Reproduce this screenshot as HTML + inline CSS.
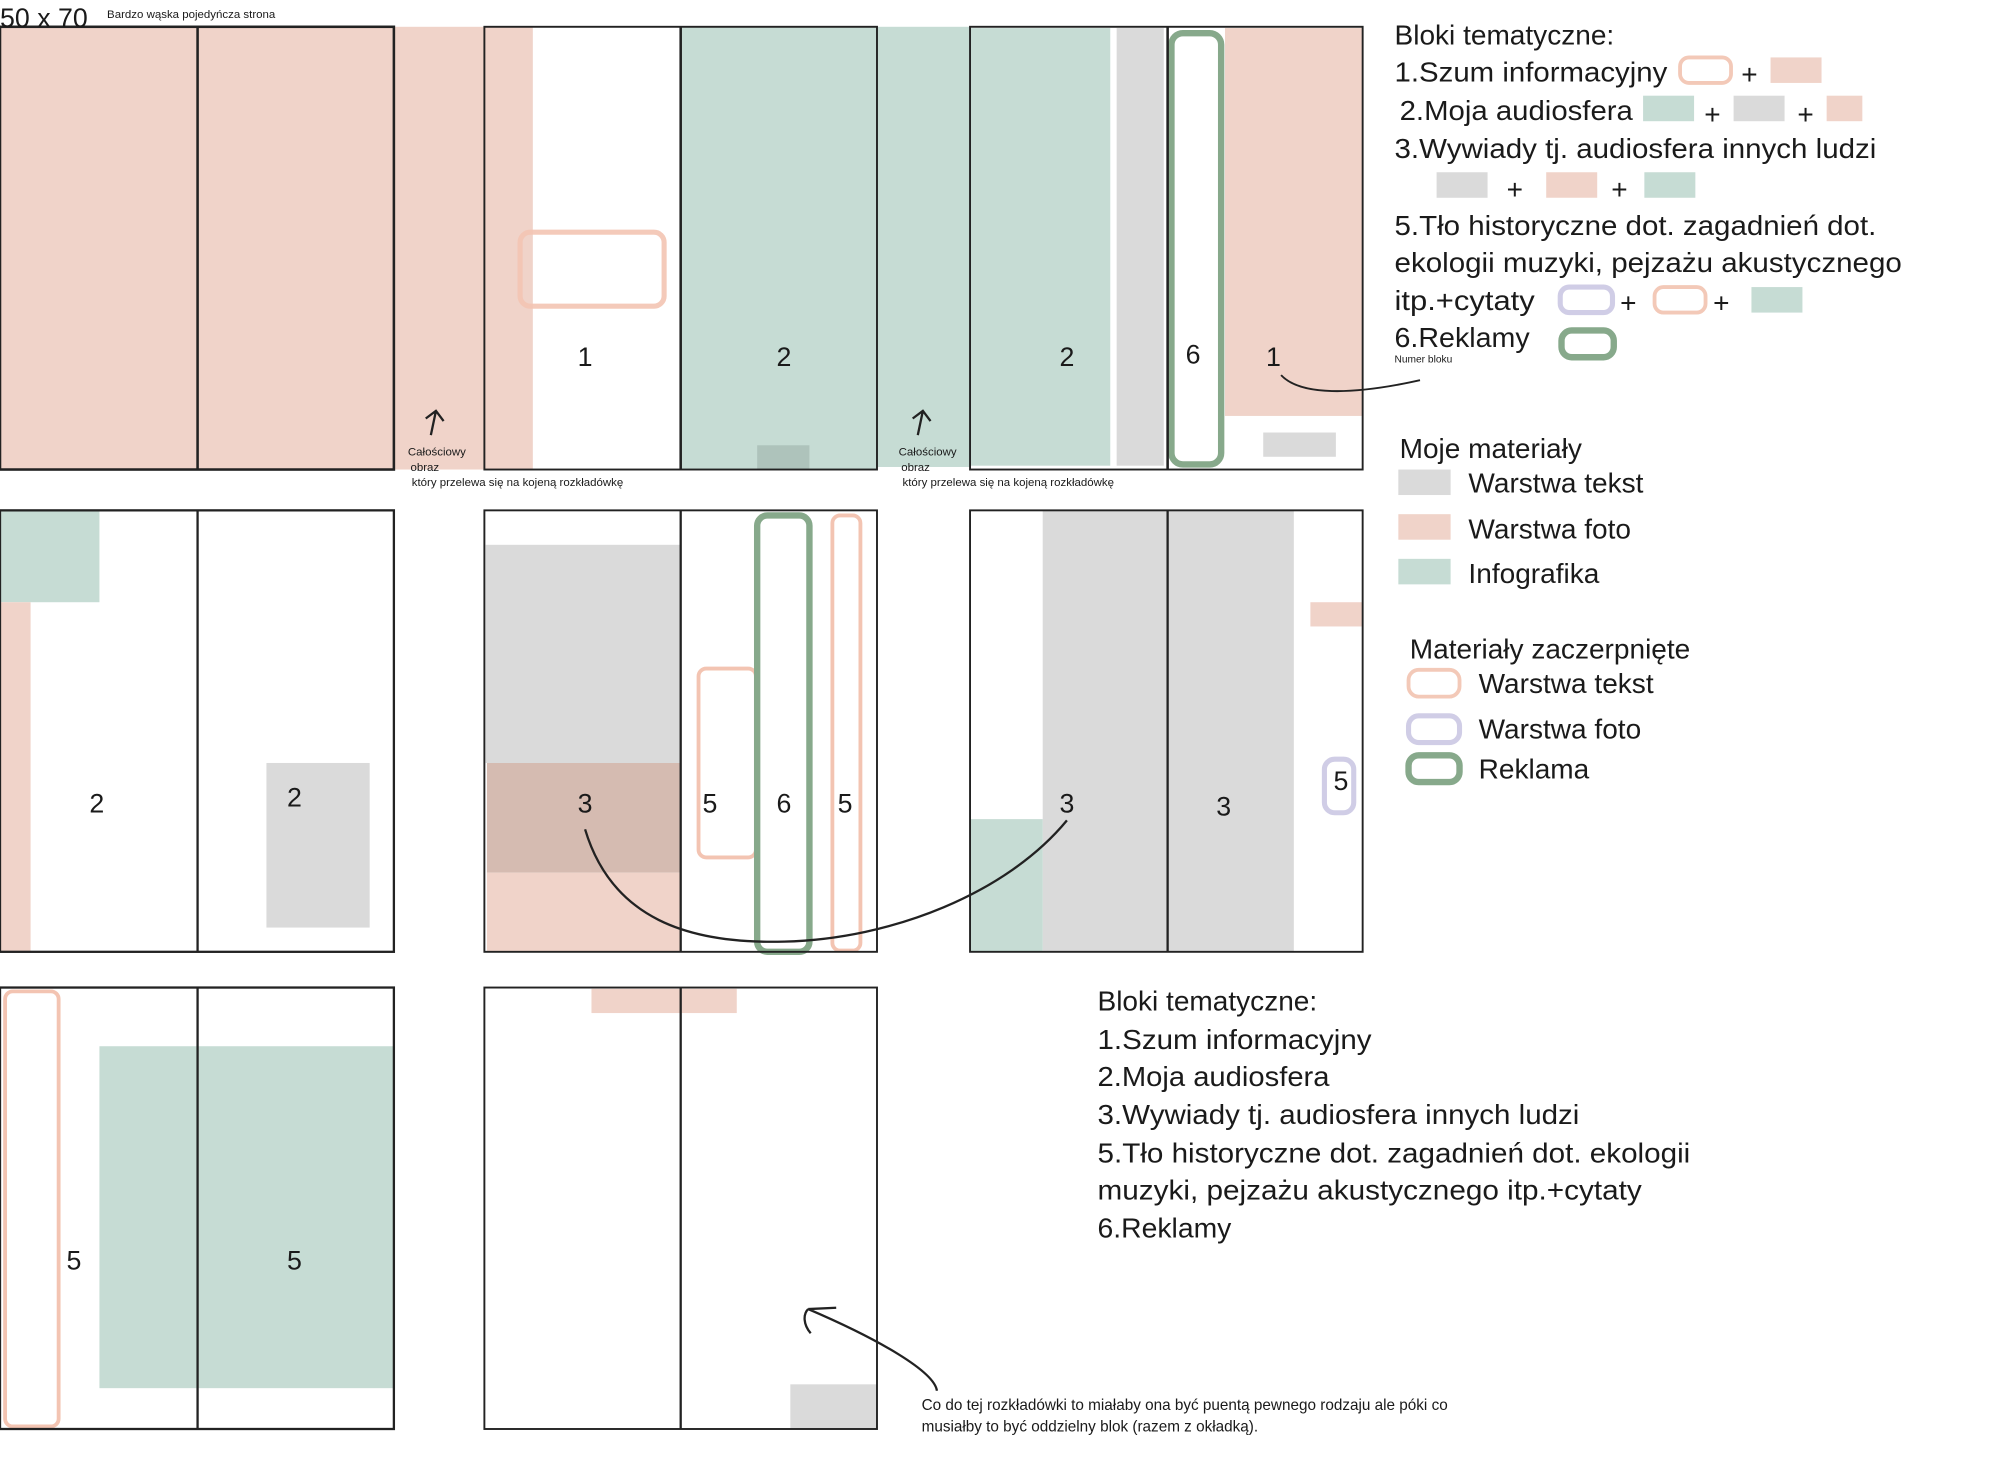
<!DOCTYPE html>
<html><head><meta charset="utf-8"><style>
html,body{margin:0;padding:0;background:#fff;}
svg{display:block;}
text{font-family:"Liberation Sans Narrow","Liberation Sans",sans-serif;fill:#1a1a1a;}
.n{font-size:21px;text-anchor:middle;}
.L{font-size:22px;}
.s{font-size:9px;}
</style></head><body>
<svg width="2000" height="1466" viewBox="0 0 1569 1149" preserveAspectRatio="none" xmlns="http://www.w3.org/2000/svg">
<rect width="1569" height="1149" fill="#fff"/>
<!-- Row 1 -->
<rect x="0" y="21" width="418" height="347" fill="#f0d3c9"/>
<rect x="534" y="21" width="227" height="347" fill="#c6dcd4"/>
<rect x="688" y="366" width="73" height="4" fill="#fff"/>
<rect x="594" y="349" width="41" height="19" fill="#aec3bb"/>
<rect x="761" y="22" width="110" height="343" fill="#c6dcd4"/>
<rect x="876" y="22" width="37" height="343" fill="#dadada"/>
<rect x="961" y="22" width="108" height="304" fill="#f0d3c9"/>
<rect x="991" y="339" width="57" height="19" fill="#dadada"/>
<rect x="408" y="182" width="113" height="58" rx="8" fill="none" stroke="#f3c4b2" stroke-width="4" opacity="0.9"/>
<rect x="919" y="26" width="39" height="338" rx="9" fill="#fff" stroke="#87a98b" stroke-width="5"/>
<g fill="none" stroke="#222" stroke-width="2">
<rect x="0" y="21" width="309" height="347"/><line x1="155" y1="21" x2="155" y2="368"/>
<rect x="380" y="21" width="308" height="347" stroke-width="1.5"/><line x1="534" y1="21" x2="534" y2="368"/>
<rect x="761" y="21" width="308" height="347" stroke-width="1.5"/><line x1="916" y1="21" x2="916" y2="368"/>
</g>
<text x="0" y="21" style="font-size:21px">50 x 70</text>
<text x="84" y="14" class="s">Bardzo wąska pojedyńcza strona</text>
<text x="459" y="287" class="n">1</text><text x="615" y="287" class="n">2</text>
<text x="837" y="287" class="n">2</text><text x="936" y="285" class="n">6</text><text x="999" y="287" class="n">1</text>
<path d="M1005 294 C1020 310 1060 310 1114 298" fill="none" stroke="#222" stroke-width="1.5"/>
<g fill="none" stroke="#222" stroke-width="1.8">
<path d="M338 341 L342 322 M334 328 L342 322 L348 330"/>
<path d="M720 341 L724 322 M716 328 L724 322 L730 330"/>
</g>
<text x="320" y="357" class="s">Całościowy</text><text x="322" y="369" class="s">obraz</text><text x="323" y="381" class="s">który przelewa się na kojeną rozkładówkę</text>
<text x="705" y="357" class="s">Całościowy</text><text x="707" y="369" class="s">obraz</text><text x="708" y="381" class="s">który przelewa się na kojeną rozkładówkę</text>
<!-- Legend 1 -->
<text x="1094" y="35" class="L">Bloki tematyczne:</text>
<text x="1094" y="64" class="L" textLength="214" lengthAdjust="spacingAndGlyphs">1.Szum informacyjny</text>
<rect x="1318" y="45" width="40" height="20" rx="7" fill="none" stroke="#f3c9b8" stroke-width="3"/>
<text x="1366" y="66" class="L">+</text><rect x="1389" y="45" width="40" height="20" fill="#f0d3c9"/>
<text x="1098" y="94" class="L" textLength="183" lengthAdjust="spacingAndGlyphs">2.Moja audiosfera</text>
<rect x="1289" y="75" width="40" height="20" fill="#c6dcd4"/><text x="1337" y="97" class="L">+</text>
<rect x="1360" y="75" width="40" height="20" fill="#dadada"/><text x="1410" y="97" class="L">+</text>
<rect x="1433" y="75" width="28" height="20" fill="#f0d3c9"/>
<text x="1094" y="124" class="L" textLength="378" lengthAdjust="spacingAndGlyphs">3.Wywiady tj. audiosfera innych ludzi</text>
<rect x="1127" y="135" width="40" height="20" fill="#dadada"/><text x="1182" y="156" class="L">+</text>
<rect x="1213" y="135" width="40" height="20" fill="#f0d3c9"/><text x="1264" y="156" class="L">+</text>
<rect x="1290" y="135" width="40" height="20" fill="#c6dcd4"/>
<text x="1094" y="184" class="L" textLength="378" lengthAdjust="spacingAndGlyphs">5.Tło historyczne dot. zagadnień dot.</text>
<text x="1094" y="213" class="L" textLength="398" lengthAdjust="spacingAndGlyphs">ekologii muzyki, pejzażu akustycznego</text>
<text x="1094" y="243" class="L" textLength="110" lengthAdjust="spacingAndGlyphs">itp.+cytaty</text>
<rect x="1224" y="225" width="41" height="20" rx="7" fill="none" stroke="#d0cde6" stroke-width="4"/>
<text x="1271" y="245" class="L">+</text>
<rect x="1298" y="225" width="40" height="20" rx="7" fill="none" stroke="#f3c9b8" stroke-width="3"/>
<text x="1344" y="245" class="L">+</text>
<rect x="1374" y="225" width="40" height="20" fill="#c6dcd4"/>
<text x="1094" y="272" class="L" textLength="106" lengthAdjust="spacingAndGlyphs">6.Reklamy</text>
<rect x="1225" y="259" width="41" height="21" rx="8" fill="none" stroke="#87a98b" stroke-width="5"/>
<text x="1094" y="284" style="font-size:8px">Numer bloku</text>
<!-- Legend 2 -->
<text x="1098" y="359" class="L">Moje materiały</text>
<rect x="1097" y="368" width="41" height="20" fill="#dadada"/><text x="1152" y="386" class="L">Warstwa tekst</text>
<rect x="1097" y="403" width="41" height="20" fill="#f0d3c9"/><text x="1152" y="422" class="L">Warstwa foto</text>
<rect x="1097" y="438" width="41" height="20" fill="#c6dcd4"/><text x="1152" y="457" class="L">Infografika</text>
<text x="1106" y="516" class="L">Materiały zaczerpnięte</text>
<rect x="1105" y="525" width="40" height="21" rx="8" fill="none" stroke="#f3c9b8" stroke-width="3"/><text x="1160" y="543" class="L">Warstwa tekst</text>
<rect x="1105" y="561" width="40" height="21" rx="8" fill="none" stroke="#d0cde6" stroke-width="4"/><text x="1160" y="579" class="L">Warstwa foto</text>
<rect x="1105" y="592" width="40" height="21" rx="8" fill="none" stroke="#87a98b" stroke-width="5"/><text x="1160" y="610" class="L">Reklama</text>
<!-- Row 2 -->
<rect x="0" y="400" width="78" height="72" fill="#c6dcd4"/>
<rect x="0" y="472" width="24" height="274" fill="#f0d3c9"/>
<rect x="209" y="598" width="81" height="129" fill="#dadada"/>
<rect x="381" y="427" width="153" height="171" fill="#dadada"/>
<rect x="382" y="598" width="152" height="86" fill="#d5bbb1"/>
<rect x="382" y="684" width="152" height="62" fill="#f0d3c9"/>
<rect x="548" y="524" width="45" height="148" rx="6" fill="none" stroke="#f3c4b2" stroke-width="3"/>
<rect x="653" y="404" width="22" height="341" rx="6" fill="none" stroke="#f3c4b2" stroke-width="3"/>
<rect x="594" y="404" width="41" height="342" rx="8" fill="none" stroke="#87a98b" stroke-width="5"/>
<rect x="818" y="400" width="197" height="346" fill="#dadada"/>
<rect x="761" y="642" width="57" height="104" fill="#c6dcd4"/>
<rect x="1028" y="472" width="41" height="19" fill="#f0d3c9"/>
<rect x="1039" y="595" width="23" height="42" rx="8" fill="#fff" stroke="#d0cde6" stroke-width="4"/>
<g fill="none" stroke="#222" stroke-width="1.8">
<rect x="0" y="400" width="309" height="346"/><line x1="155" y1="400" x2="155" y2="746"/>
<rect x="380" y="400" width="308" height="346" stroke-width="1.5"/><line x1="534" y1="400" x2="534" y2="746"/>
<rect x="761" y="400" width="308" height="346" stroke-width="1.5"/><line x1="916" y1="400" x2="916" y2="746"/>
</g>
<path d="M459 650 C480 720 540 740 615 738 C700 736 790 700 837 643" fill="none" stroke="#222" stroke-width="1.8"/>
<text x="76" y="637" class="n">2</text><text x="231" y="632" class="n">2</text>
<text x="459" y="637" class="n">3</text><text x="557" y="637" class="n">5</text><text x="615" y="637" class="n">6</text><text x="663" y="637" class="n">5</text>
<text x="837" y="637" class="n">3</text><text x="960" y="639" class="n">3</text><text x="1052" y="619" class="n">5</text>
<!-- Row 3 -->
<rect x="78" y="820" width="231" height="268" fill="#c6dcd4"/>
<rect x="4" y="777" width="42" height="341" rx="6" fill="none" stroke="#f3c4b2" stroke-width="3"/>
<rect x="464" y="775" width="114" height="19" fill="#f0d3c9"/>
<rect x="620" y="1085" width="68" height="35" fill="#dadada"/>
<g fill="none" stroke="#222" stroke-width="1.8">
<rect x="0" y="774" width="309" height="346"/><line x1="155" y1="774" x2="155" y2="1120"/>
<rect x="380" y="774" width="308" height="346" stroke-width="1.5"/><line x1="534" y1="774" x2="534" y2="1120"/>
<path d="M735 1090 C733 1075 690 1050 634 1026 M634 1026 C630 1030 630 1038 636 1045 M634 1026 L656 1025"/>
</g>
<text x="58" y="995" class="n">5</text><text x="231" y="995" class="n">5</text>
<text x="723" y="1105" style="font-size:12px">Co do tej rozkładówki to miałaby ona być puentą pewnego rodzaju ale póki co</text>
<text x="723" y="1122" style="font-size:12px">musiałby to być oddzielny blok (razem z okładką).</text>
<!-- Legend 3 -->
<text x="861" y="792" class="L">Bloki tematyczne:</text>
<text x="861" y="822" class="L" textLength="215" lengthAdjust="spacingAndGlyphs">1.Szum informacyjny</text>
<text x="861" y="851" class="L" textLength="182" lengthAdjust="spacingAndGlyphs">2.Moja audiosfera</text>
<text x="861" y="881" class="L" textLength="378" lengthAdjust="spacingAndGlyphs">3.Wywiady tj. audiosfera innych ludzi</text>
<text x="861" y="911" class="L" textLength="465" lengthAdjust="spacingAndGlyphs">5.Tło historyczne dot. zagadnień dot. ekologii</text>
<text x="861" y="940" class="L" textLength="427" lengthAdjust="spacingAndGlyphs">muzyki, pejzażu akustycznego itp.+cytaty</text>
<text x="861" y="970" class="L" textLength="105" lengthAdjust="spacingAndGlyphs">6.Reklamy</text>
</svg>
</body></html>
